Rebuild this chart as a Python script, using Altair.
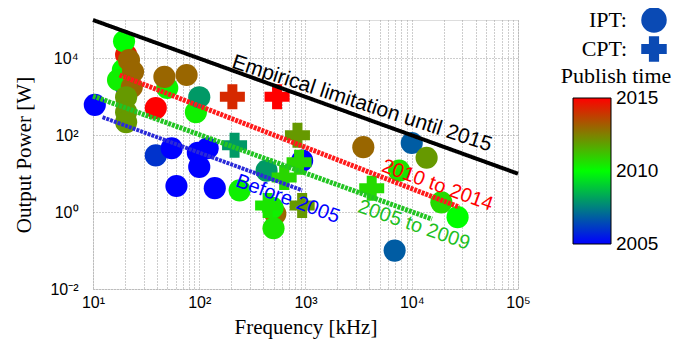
import altair as alt
import pandas as pd

# ---- IPT systems (circles): frequency [kHz], output power [W], publish year
ipt_freq = [10.4, 20, 20.5, 19.6, 19.1, 17.2, 21.8, 23.8, 23.2, 20.5, 20.5, 20.5,
            50, 47, 76, 93, 100, 39,
            39, 55, 61, 97, 100, 120, 140,
            430, 240, 930, 520, 490, 500,
            3500, 10000, 13800, 7600, 19000, 27000, 6900]
ipt_power = [620, 2040, 12500, 28000, 5000, 2750, 9000, 4500, 1800, 980, 400, 220,
             1700, 3300, 3700, 400, 980, 510,
             30, 46, 4.8, 35, 15, 46, 4.2,
             12, 3.7, 22, 0.9, 1.3, 0.38,
             49, 63, 26, 12, 1.8, 0.74, 0.1]
ipt_year = [2005, 2005, 2014.5, 2010, 2010, 2010.3, 2013, 2013, 2013, 2012, 2012, 2012,
            2010.2, 2013, 2013, 2010.3, 2008, 2015,
            2006, 2005, 2005, 2005, 2005, 2005, 2005,
            2008, 2010.3, 2005, 2013, 2010.3, 2010.5,
            2013, 2006.8, 2012, 2010.5, 2010.7, 2010, 2006.8]

# ---- CPT systems (crosses)
cpt_freq = [205, 540, 215, 840, 870, 630, 930, 440, 4200]
cpt_power = [1000, 1000, 55, 100, 20, 8, 1.5, 1.5, 4.2]
cpt_year = [2014.2, 2015, 2008, 2012, 2010.8, 2010.8, 2012, 2010.5, 2010.7]

# ---- trend lines (start / end points)
line_f0 = [10, 17.8, 10, 12.3]
line_p0 = [1e5, 3700, 1050, 295]
line_f1 = [1e5, 28000, 15500, 930]
line_p1 = [10, 1.35, 0.66, 3.7]
line_colors = ["#000000", "#ff1a1a", "#22c422", "#2a2ad8"]
line_widths = [4, 5, 5, 4]

# ---- annotation labels
label_texts = ["Empirical limitation until 2015", "2010 to 2014", "2005 to 2009", "Before 2005"]
label_freq = [3400, 17400, 10500, 680]
label_power = [660, 5.0, 0.46, 2.2]
label_angle = [18, 20, 19, 20]
label_colors = ["#000000", "#ff0000", "#1fbf1f", "#0000ff"]

# ---- colour bar tick labels (nudged inside the ends so they stay centred)
cbar_values = [2005.001, 2010, 2014.999]

x_ticks = [m * 10 ** e for e in range(1, 5) for m in range(1, 10)] + [100000]
y_ticks = [0.01, 1, 100, 10000]

ipt = pd.DataFrame({"freq": ipt_freq, "power": ipt_power, "year": ipt_year,
                    "type": ["IPT"] * len(ipt_freq)})
cpt = pd.DataFrame({"freq": cpt_freq, "power": cpt_power, "year": cpt_year,
                    "type": ["CPT"] * len(cpt_freq)})

xlab = ("datum.value == 10 ? '10\u00b9' : datum.value == 100 ? '10\u00b2' : "
        "datum.value == 1000 ? '10\u00b3' : datum.value == 10000 ? '10\u2074' : "
        "datum.value == 100000 ? '10\u2075' : ''")
ylab = ("datum.value == 0.01 ? '10\u207b\u00b2' : datum.value == 1 ? '10\u2070' : "
        "datum.value == 100 ? '10\u00b2' : datum.value == 10000 ? '10\u2074' : ''")

xs = alt.Scale(type="log", domain=[10, 1e5])
ys = alt.Scale(type="log", domain=[0.01, 1e5])

x_axis = alt.Axis(values=x_ticks, labelExpr=xlab, title="Frequency [kHz]", grid=True,
                  gridDash=[1, 2], gridColor="#9a9a9a", ticks=False, domain=False,
                  labelFlush=False, labelOverlap=False, labelFont="Liberation Sans",
                  labelFontSize=16, labelColor="black", labelPadding=5,
                  titleFont="Liberation Serif", titleFontSize=21, titleFontWeight="normal",
                  titleColor="black", titlePadding=6)
y_axis = alt.Axis(values=y_ticks, labelExpr=ylab, title="Output Power [W]", grid=True,
                  gridDash=[1, 2], gridColor="#9a9a9a", ticks=False, domain=False,
                  labelFlush=False, labelOverlap=False, labelFont="Liberation Sans",
                  labelFontSize=16, labelColor="black", labelPadding=15,
                  titleFont="Liberation Serif", titleFontSize=21, titleFontWeight="normal",
                  titleColor="black", titlePadding=15)

color_enc = alt.Color(
    "year:Q",
    scale=alt.Scale(domain=[2005, 2010, 2015], range=["#0000ff", "#00ff00", "#ff0000"],
                    interpolate="rgb"),
    legend=alt.Legend(title="Publish time", orient="none", legendX=468, legendY=46,
                      direction="vertical", gradientLength=146, gradientThickness=38,
                      gradientStrokeColor="#000000", gradientStrokeWidth=1,
                      values=cbar_values, format="d", labelFont="Liberation Sans",
                      labelFontSize=19, labelColor="black", labelOffset=5, labelOverlap=False,
                      labelBaseline="middle",
                      titleFont="Liberation Serif", titleFontSize=22, titleFontWeight="normal",
                      titleColor="black", titleAnchor="middle", titlePadding=10))
shape_enc = alt.Shape(
    "type:N",
    scale=alt.Scale(domain=["IPT", "CPT"], range=["circle", "cross"]),
    legend=alt.Legend(title=None, orient="none", legendX=548, legendY=-13,
                      labelExpr="datum.label + ':'", labelFont="Liberation Serif",
                      labelFontSize=22, labelColor="black", labelAlign="right",
                      labelOffset={"expr": "-40"}, symbolFillColor="#0a4ab4",
                      symbolStrokeColor="#0a4ab4", symbolStrokeWidth=0, symbolSize=650,
                      symbolOpacity=1, rowPadding=3))

circles = alt.Chart(ipt).mark_point(filled=True, opacity=1, strokeWidth=0, size=490).encode(
    x=alt.X("freq:Q", scale=xs, axis=x_axis),
    y=alt.Y("power:Q", scale=ys, axis=y_axis),
    color=color_enc, shape=shape_enc)
crosses = alt.Chart(cpt).mark_point(filled=True, opacity=1, strokeWidth=0, size=625).encode(
    x=alt.X("freq:Q", scale=xs), y=alt.Y("power:Q", scale=ys),
    color=color_enc, shape=shape_enc)

layers = [circles, crosses]
for i in range(len(line_f0)):
    ld = pd.DataFrame({"freq": [line_f0[i], line_f1[i]], "power": [line_p0[i], line_p1[i]]})
    dash = [1, 0] if i == 0 else [3, 1]
    mk = alt.Chart(ld).mark_line(color=line_colors[i], strokeWidth=line_widths[i],
                                 strokeDash=dash)
    layers.append(mk.encode(x=alt.X("freq:Q", scale=xs), y=alt.Y("power:Q", scale=ys)))

for i in range(len(label_texts)):
    td = pd.DataFrame({"freq": [label_freq[i]], "power": [label_power[i]], "t": [label_texts[i]]})
    layers.append(alt.Chart(td).mark_text(angle=label_angle[i], color=label_colors[i],
                                          font="Liberation Sans", fontSize=21 if i == 0 else 20,
                                          align="center", baseline="middle").encode(
        x=alt.X("freq:Q", scale=xs), y=alt.Y("power:Q", scale=ys), text="t:N"))

chart = alt.layer(*layers).properties(
    width=425, height=269,
    autosize=alt.AutoSizeParams(type="none"),
    padding={"left": 85, "top": 12, "right": 164, "bottom": 63},
).configure_view(stroke="#444444", strokeWidth=1.2).configure(background="white")

chart.save("out.html", embed_options={"renderer": "svg", "actions": False})
